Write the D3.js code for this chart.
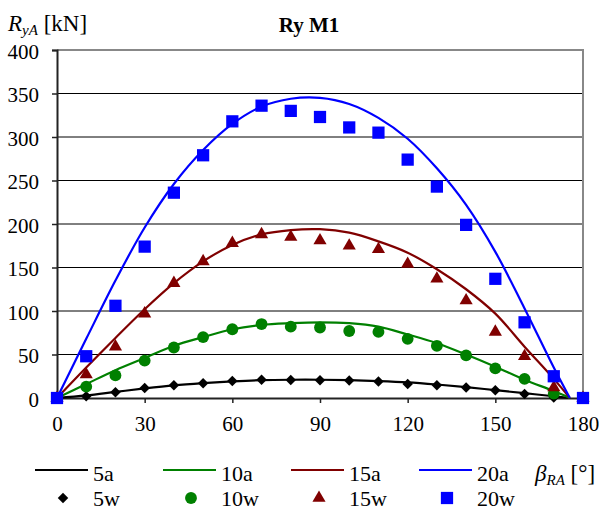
<!DOCTYPE html>
<html>
<head>
<meta charset="utf-8">
<script src="https://cdn.jsdelivr.net/npm/d3@7"></script>
<style>
  body { margin: 0; background: #fff; }
  text { font-family: "Liberation Serif", "Times New Roman", serif; fill: #000; }
</style>
</head>
<body>
<svg id="chart" width="599" height="510"></svg>
<script>
// measured points (w) every 10 degrees
const angles = [0, 10, 20, 30, 40, 50, 60, 70, 80, 90, 100, 110, 120, 130, 140, 150, 160, 170, 180];
const w5 = [0, 2, 6.5, 11.5, 14.6, 17, 19.5, 21, 20.7, 20.5, 20, 19, 16, 14.6, 12, 8.8, 4.6, 0.5, 0];
const w10 = [0, 13, 26, 43, 58, 70, 79, 85, 82, 81, 77, 76, 68, 60, 49, 34, 22, 5, 0];
const w15 = [0, 27, 59, 97, 132, 157, 178, 188, 185, 181, 175, 171, 154, 137, 112, 76, 48, 12, 0];
const w20 = [0, 48, 106, 174, 236, 279, 318, 336, 330, 323, 311, 305, 274, 243, 199, 137, 87, 25, 0];

// analytical curves (a)
const fitAngles = [0, 10, 20, 30, 40, 50, 60, 70, 80, 90, 100, 110, 120, 130, 140, 150, 160, 170, 175.5];
const a5 = [0, 3, 7, 11, 14.5, 17, 19, 20.5, 21, 21, 20.5, 19.5, 18, 15.5, 12.5, 9, 5.5, 2, 0];
const a10 = [0, 16, 32, 46, 60, 70, 79, 84, 86, 87, 86, 82, 73, 63, 50, 36, 21, 8, 0];
const a15 = [0, 35, 69, 102, 132, 157, 176, 188, 193, 194, 190, 180, 167, 148, 125, 97, 59, 22, 0];
const a20 = [0, 68, 135, 196, 246, 285, 315, 335, 344, 345, 338, 322, 298, 264, 222, 168, 103, 35, 0];

const xTicks = [0, 30, 60, 90, 120, 150, 180];
const yTicks = [0, 50, 100, 150, 200, 250, 300, 350, 400];

const series = [
  { name: '5', color: '#000000', fit: a5, pts: w5, marker: 'diamond' },
  { name: '10', color: '#008000', fit: a10, pts: w10, marker: 'circle' },
  { name: '15', color: '#800000', fit: a15, pts: w15, marker: 'triangle' },
  { name: '20', color: '#0000ff', fit: a20, pts: w20, marker: 'square' },
];

const svg = d3.select('#chart');
const x = d3.scaleLinear().domain([0, 180]).range([57, 583]);
const y = d3.scaleLinear().domain([0, 400]).range([398, 50]);

// gridlines
svg.append('g')
  .selectAll('line')
  .data(yTicks.slice(1, -1))
  .join('line')
  .attr('x1', x(0)).attr('x2', x(180))
  .attr('y1', (d) => y(d)).attr('y2', (d) => y(d))
  .attr('stroke', '#000').attr('stroke-width', 1);

// frame top/right
svg.append('path')
  .attr('d', `M${x(0)},${y(400)}H${x(180)}V${y(0)}`)
  .attr('fill', 'none').attr('stroke', '#888').attr('stroke-width', 2);

// axes
const yAxis = d3.axisLeft(y).tickValues(yTicks).tickSize(5).tickPadding(13);
const yg = svg.append('g').attr('transform', `translate(${x(0)},0)`).call(yAxis);
const xAxis = d3.axisBottom(x).tickValues(xTicks).tickSize(5).tickPadding(13);
const xg = svg.append('g').attr('transform', `translate(0,${y(0)})`).call(xAxis);
[yg, xg].forEach((g) => {
  g.select('.domain').attr('stroke', '#222').attr('stroke-width', 2);
  g.selectAll('.tick line').attr('stroke', '#222').attr('stroke-width', 1.5);
  g.selectAll('.tick text').style('font-size', '21px').attr('fill', '#000');
});
yg.selectAll('.tick text').attr('dy', '0.4em');

// fitted lines
const line = d3.line()
  .x((d) => x(d[0]))
  .y((d) => y(d[1]))
  .curve(d3.curveCatmullRom.alpha(0.5));

svg.append('g')
  .selectAll('path')
  .data(series)
  .join('path')
  .attr('d', (s) => line(fitAngles.map((a, i) => [a, s.fit[i]])))
  .attr('fill', 'none')
  .attr('stroke', (s) => s.color)
  .attr('stroke-width', 2.2);

// markers
const markerPath = (m) => {
  if (m === 'diamond') return d3.symbol().type(d3.symbolDiamond2).size(70)();
  if (m === 'circle') return d3.symbol().type(d3.symbolCircle).size(110)();
  if (m === 'triangle') return d3.symbol().type(d3.symbolTriangle).size(75)();
  return d3.symbol().type(d3.symbolSquare).size(150)();
};

series.forEach((s) => {
  svg.append('g')
    .selectAll('path')
    .data(angles.map((a, i) => [a, s.pts[i]]))
    .join('path')
    .attr('d', markerPath(s.marker))
    .attr('transform', (d) => `translate(${x(d[0])},${y(d[1])})`)
    .attr('fill', s.color);
});

// title and axis labels
svg.append('text')
  .attr('x', 309).attr('y', 32)
  .attr('text-anchor', 'middle')
  .style('font-size', '21px').style('font-weight', 'bold')
  .text('Ry M1');

const yl = svg.append('text').attr('x', 8).attr('y', 31).style('font-size', '23px');
yl.append('tspan').style('font-style', 'italic').text('R');
yl.append('tspan').style('font-style', 'italic').style('font-size', '15px').attr('dy', 4).text('yA');
yl.append('tspan').attr('dy', -4).text(' [kN]');

const xl = svg.append('text').attr('x', 535).attr('y', 481).style('font-size', '23px');
xl.append('tspan').style('font-style', 'italic').text('β');
xl.append('tspan').style('font-style', 'italic').style('font-size', '15px').attr('dy', 4).text('RA');
xl.append('tspan').attr('dy', -4).text(' [°]');

// legend
const legendX = [35, 163, 291, 419];
const leg = svg.append('g');
series.forEach((s, i) => {
  const lx = legendX[i];
  leg.append('line')
    .attr('x1', lx).attr('x2', lx + 53)
    .attr('y1', 470).attr('y2', 470)
    .attr('stroke', s.color).attr('stroke-width', 2.2);
  leg.append('text').attr('x', lx + 58).attr('y', 481).style('font-size', '22px').text(s.name + 'a');
  leg.append('path')
    .attr('d', markerPath(s.marker))
    .attr('transform', `translate(${lx + 28},498)`)
    .attr('fill', s.color);
  leg.append('text').attr('x', lx + 58).attr('y', 506).style('font-size', '22px').text(s.name + 'w');
});
</script>
</body>
</html>
